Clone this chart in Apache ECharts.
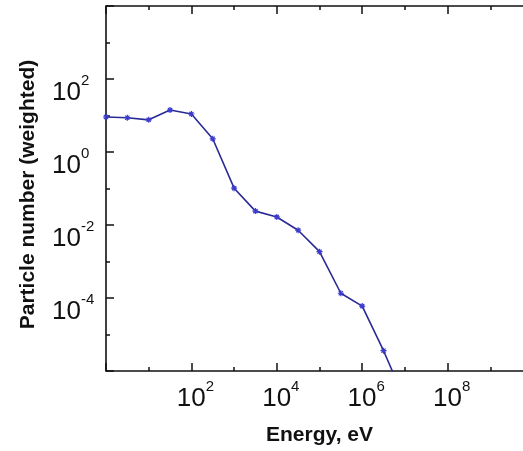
<!DOCTYPE html>
<html>
<head>
<meta charset="utf-8">
<script src="https://cdn.jsdelivr.net/npm/echarts@6/dist/echarts.min.js"></script>
<style>
html,body{margin:0;padding:0;background:#fff;}
#chart{width:523px;height:451px;}
</style>
</head>
<body>
<div id="chart"></div>
<script>
// Data
const energy = [1, 3.16, 10, 31.6, 100, 316, 1000, 3160, 10000, 31600, 100000, 316000, 1000000, 3160000, 10000000];
const particles = [9.1, 8.7, 7.6, 14.1, 11.0, 2.3, 0.102, 0.024, 0.0166, 0.0072, 0.00186, 0.000135, 0.00006, 0.0000036, 0.00000016];
// Tick labels (exponents of 10 that carry a label)
const xLabelExponents = [2, 4, 6, 8];
const yLabelExponents = [2, 0, -2, -4];
const xTitle = 'Energy, eV';
const yTitle = 'Particle number (weighted)';

const FONT = 'Liberation Sans, Arial, Helvetica, sans-serif';
const seriesData = energy.map((e, i) => [e, particles[i]]);

function expOf(v) { return Math.round(Math.log10(v)); }
function xFmt(v) {
  const e = expOf(v);
  return xLabelExponents.includes(e) ? '{pad| }{b|10}{s|' + e + '}' : '';
}
function yFmt(v) {
  const e = expOf(v);
  return yLabelExponents.includes(e) ? '{b|10}{s|' + e + '}' : '';
}
const rich = {
  pad: { width: 8, fontSize: 15 },
  b: { fontSize: 26, lineHeight: 26, padding: [14, 0, 0, 0], fontFamily: FONT, color: '#111' },
  s: { fontSize: 15, lineHeight: 15, verticalAlign: 'top', fontFamily: FONT, color: '#111' }
};

const xMin = 1, xMax = 1e10, yMin = 1e-6, yMax = 1e4;
function mkAxis(pos, interval, tickLen, opts) {
  const vertical = pos === 'left' || pos === 'right';
  return Object.assign({
    type: 'log', logBase: 10, position: pos,
    min: vertical ? yMin : xMin, max: vertical ? yMax : xMax, interval: interval,
    axisLine: { show: false },
    axisTick: { show: true, inside: true, length: tickLen, lineStyle: { color: '#111', width: 1.5 } },
    axisLabel: { show: false },
    splitLine: { show: false },
    minorTick: { show: false }
  }, opts || {});
}

const chart = echarts.init(document.getElementById('chart'));
chart.setOption({
  backgroundColor: '#fff',
  animation: false,
  grid: {
    left: 106, top: 6, width: 427, height: 365,
    outerBoundsMode: 'none',
    show: true, borderColor: '#111', borderWidth: 1.6, backgroundColor: 'transparent'
  },
  xAxis: [
    mkAxis('bottom', 1, 4),
    mkAxis('bottom', 2, 8, {
      axisLabel: { show: true, margin: 8, formatter: xFmt, rich: rich, showMinLabel: true, showMaxLabel: true },
      name: xTitle, nameLocation: 'middle', nameGap: 54,
      nameTextStyle: { fontFamily: FONT, fontWeight: 'bold', fontSize: 21, color: '#111' }
    }),
    mkAxis('top', 1, 4),
    mkAxis('top', 2, 8)
  ],
  yAxis: [
    mkAxis('left', 1, 4),
    mkAxis('left', 2, 8, {
      axisLabel: { show: true, margin: 54, align: 'left', padding: [14, 0, 0, 0], formatter: yFmt, rich: rich, showMinLabel: true, showMaxLabel: true },
      name: yTitle, nameLocation: 'middle', nameGap: 67, nameRotate: 90,
      nameTextStyle: { fontFamily: FONT, fontWeight: 'bold', fontSize: 21, color: '#111', padding: [0, 12, 0, 0] }
    })
  ],
  series: [{
    type: 'line',
    xAxisIndex: 0, yAxisIndex: 0,
    data: seriesData,
    clip: true,
    symbol: 'path://M5,0L5,10M0,5L10,5M1.5,1.5L8.5,8.5M1.5,8.5L8.5,1.5',
    symbolSize: 6,
    showAllSymbol: true,
    lineStyle: { color: '#2a2a96', width: 1.6 },
    itemStyle: { color: 'transparent', borderColor: '#3a3acc', borderWidth: 1.2 }
  }]
});
</script>
</body>
</html>
